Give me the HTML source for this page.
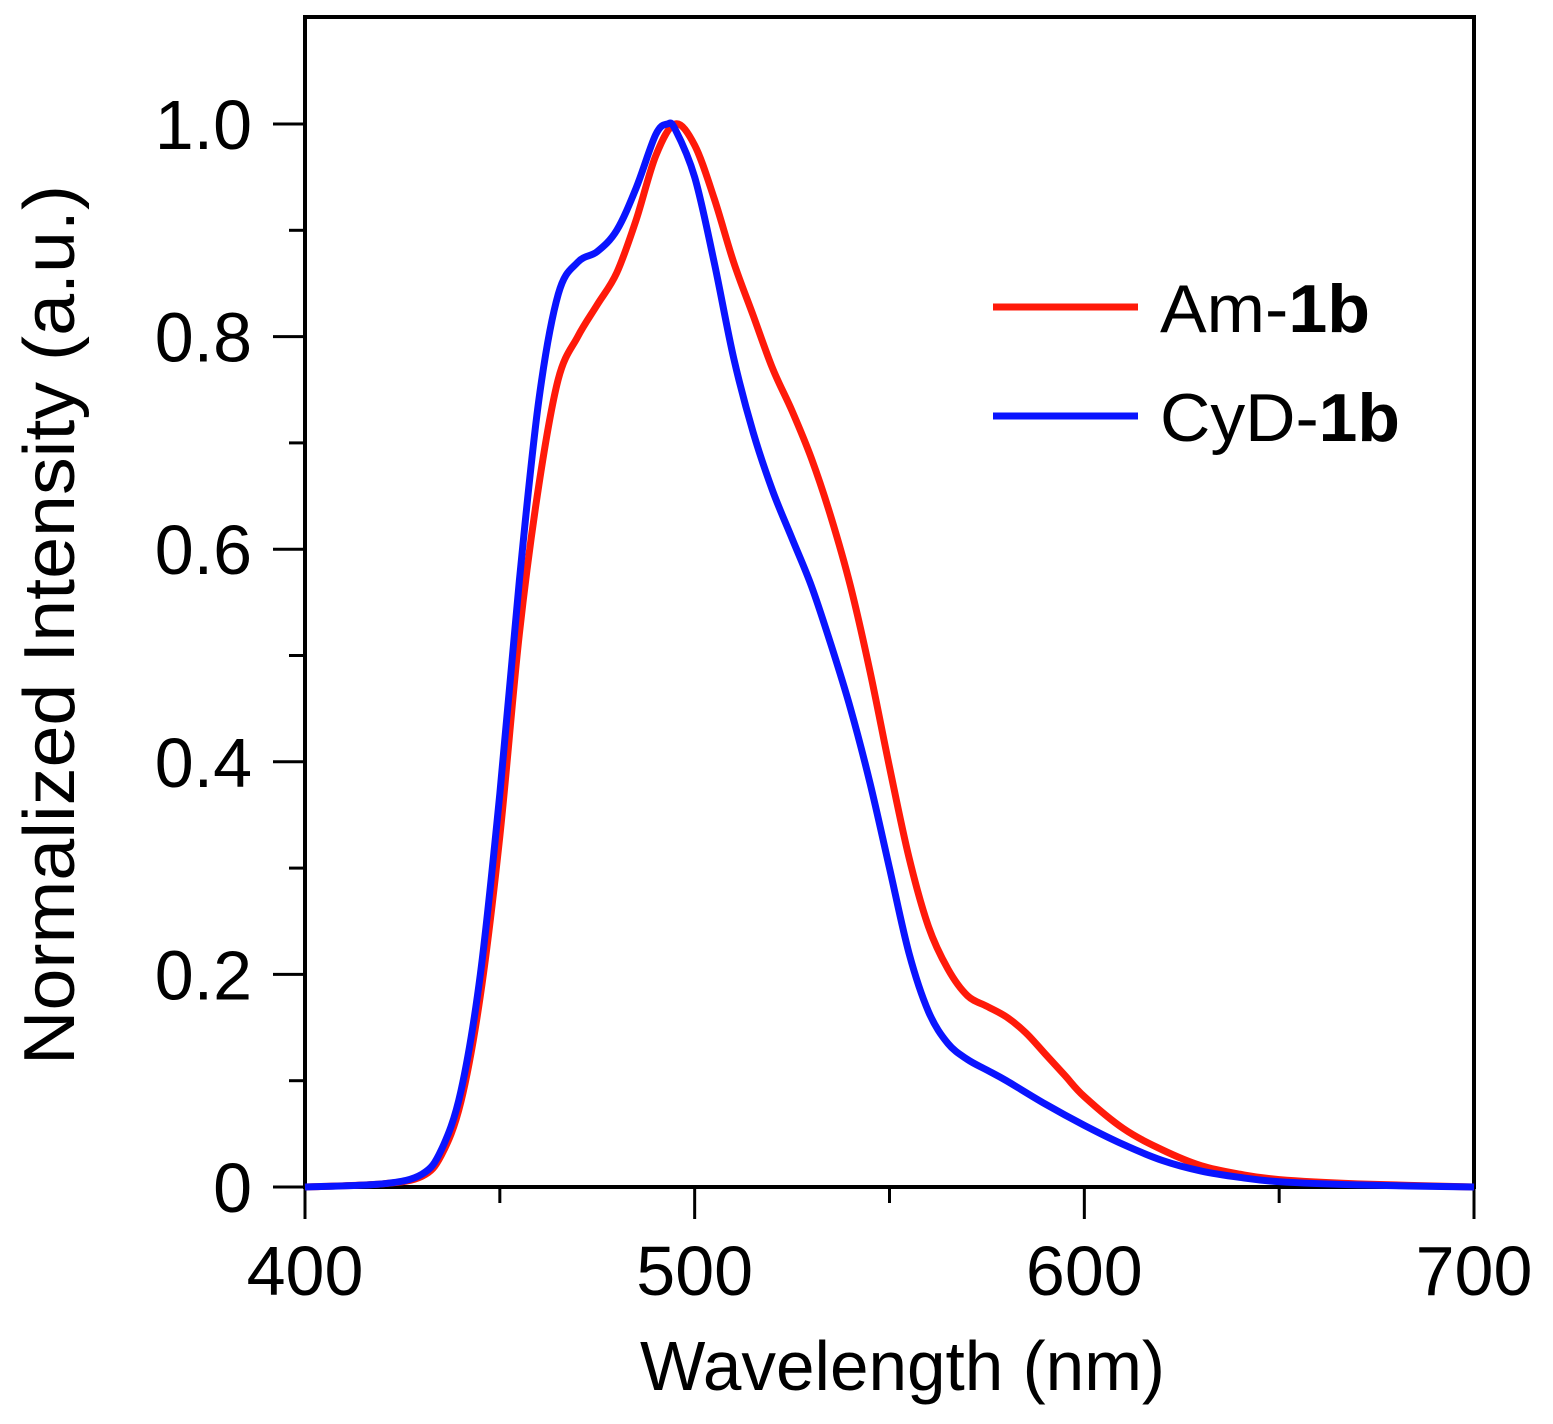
<!DOCTYPE html>
<html><head><meta charset="utf-8"><style>
body{margin:0;background:#fff}
svg text{font-family:"Liberation Sans",Arial,sans-serif;fill:#000}
</style></head><body>
<svg id="chart" width="1553" height="1419" viewBox="0 0 1553 1419" xmlns="http://www.w3.org/2000/svg">
<g id="axes"></g>
<g id="series"></g>
<text x="640" y="1390" font-size="70" textLength="525" lengthAdjust="spacingAndGlyphs">Wavelength (nm)</text>
<text transform="translate(74,1065) rotate(-90)" font-size="72" textLength="880" lengthAdjust="spacingAndGlyphs">Normalized Intensity (a.u.)</text>
<g>
<line x1="993" y1="307" x2="1138" y2="307" stroke="#ff1a0a" stroke-width="7"/>
<text x="1160" y="332" font-size="68" textLength="210" lengthAdjust="spacingAndGlyphs">Am-<tspan font-weight="bold">1b</tspan></text>
<line x1="993" y1="416" x2="1138" y2="416" stroke="#0a14ff" stroke-width="7"/>
<text x="1160" y="441" font-size="68" textLength="240" lengthAdjust="spacingAndGlyphs">CyD-<tspan font-weight="bold">1b</tspan></text>
</g>
</svg>
<script>
const amX=[400,420,430,435,440,445,450,455,460,465,470,475,480,485,490,495,500,505,510,515,520,525,530,535,540,545,550,555,560,565,570,575,580,585,590,595,600,610,620,630,640,650,670,700];
const amY=[0,0.003,0.01,0.03,0.08,0.18,0.33,0.52,0.66,0.76,0.80,0.83,0.86,0.91,0.97,1.0,0.98,0.93,0.87,0.82,0.77,0.73,0.685,0.63,0.565,0.485,0.395,0.31,0.245,0.205,0.18,0.17,0.16,0.145,0.125,0.105,0.085,0.055,0.035,0.02,0.012,0.007,0.003,0];
const cyX=[400,420,430,435,440,445,450,455,460,465,470,475,480,485,490,493,495,500,505,510,515,520,525,530,535,540,545,550,555,560,565,570,575,580,590,600,610,620,630,640,650,670,700];
const cyY=[0,0.003,0.012,0.035,0.09,0.2,0.37,0.57,0.74,0.84,0.87,0.88,0.90,0.94,0.99,1.0,0.995,0.95,0.87,0.78,0.71,0.655,0.61,0.565,0.51,0.45,0.38,0.30,0.22,0.165,0.135,0.12,0.11,0.10,0.078,0.058,0.04,0.025,0.015,0.009,0.005,0.002,0];
const xTicks=[400,500,600,700];
const yTicks=[0,0.2,0.4,0.6,0.8,1.0];
const yTickLabels=["0","0.2","0.4","0.6","0.8","1.0"];
const X0=305,X1=1474,Y0=1187,Y1=124;
const sx=v=>X0+(v-400)*(X1-X0)/300;
const sy=v=>Y0-v*(Y0-Y1);
const NS="http://www.w3.org/2000/svg";
const axes=document.getElementById('axes');
function mk(tag,attrs,parent){const e=document.createElementNS(NS,tag);for(const k in attrs)e.setAttribute(k,attrs[k]);parent.appendChild(e);return e;}
const frame=mk('rect',{x:X0,y:17,width:X1-X0,height:Y0-17,fill:'none',stroke:'#000','stroke-width':4},axes);


for(let v=400;v<=700;v+=50){const major=v%100===0;
 const t=mk('line',{x1:sx(v),x2:sx(v),y1:Y0,y2:major?1219:1203,stroke:'#000','stroke-width':3},axes);
 
 }
xTicks.forEach(v=>{const t=mk('text',{x:sx(v),y:1295,'font-size':70,'text-anchor':'middle'},axes);t.textContent=v;
 
 });
for(let i=0;i<=10;i++){const v=i*0.1;const major=i%2===0;
 const t=mk('line',{x1:major?273:289,x2:X0,y1:sy(v),y2:sy(v),stroke:'#000','stroke-width':3},axes);
 
 }
yTicks.forEach((v,i)=>{const t=mk('text',{x:252,y:sy(v)+25,'font-size':70,'text-anchor':'end'},axes);t.textContent=yTickLabels[i];
 
 });
function path(xs,ys){const p=xs.map((x,i)=>[sx(x),sy(ys[i])]);let d='M'+p[0][0]+','+p[0][1];
 for(let i=0;i<p.length-1;i++){const a=p[i-1]||p[i],b=p[i],c=p[i+1],e=p[i+2]||c;
 d+=` C${b[0]+(c[0]-a[0])/6},${b[1]+(c[1]-a[1])/6} ${c[0]-(e[0]-b[0])/6},${c[1]-(e[1]-b[1])/6} ${c[0]},${c[1]}`;}return d;}
const ser=document.getElementById('series');
const pa=mk('path',{d:path(amX,amY),fill:'none',stroke:'#ff1a0a','stroke-width':7,'stroke-linejoin':'round'},ser);


const pc=mk('path',{d:path(cyX,cyY),fill:'none',stroke:'#0a14ff','stroke-width':7,'stroke-linejoin':'round'},ser);


</script>
</body></html>
